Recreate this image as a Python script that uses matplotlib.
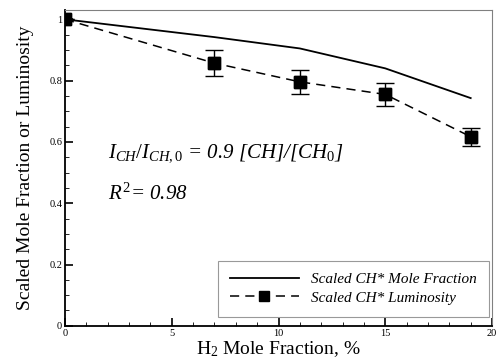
import matplotlib
matplotlib.use("Agg")
import matplotlib.pyplot as plt
from matplotlib.ticker import MultipleLocator, FuncFormatter

plt.rcParams['font.family'] = 'Liberation Serif'
plt.rcParams['mathtext.fontset'] = 'custom'
plt.rcParams['mathtext.rm'] = 'Liberation Serif'
plt.rcParams['mathtext.it'] = 'Liberation Serif:italic'
plt.rcParams['mathtext.default'] = 'it'

# Simulated mole fraction (solid line)
h2_sim = [0, 7, 11, 15, 19]
mole_frac = [1.0, 0.942, 0.905, 0.84, 0.743]

# Measured luminosity with error bars
h2_exp = [0, 7, 11, 15, 19]
lum = [1.0, 0.857, 0.796, 0.755, 0.617]
lum_err = [0.0, 0.043, 0.039, 0.038, 0.030]

fig = plt.figure(figsize=(4.96, 3.62), dpi=100)
ax = fig.add_axes([0.131, 0.100, 0.861, 0.872])

ax.plot(h2_sim, mole_frac, color='black', lw=1.3, label='Scaled CH* Mole Fraction')
ax.errorbar(h2_exp, lum, yerr=lum_err, color='black', ls='none', marker='s', ms=8,
            capsize=6.5, elinewidth=1.0, capthick=1.0)
ax.plot(h2_exp, lum, color='black', lw=1.1, ls=(0, (6, 4)), marker='s', ms=8,
        label='Scaled CH* Luminosity')

ax.set_xlim(0, 20)
ax.set_ylim(0, 1.03)
ax.xaxis.set_major_locator(MultipleLocator(5))
ax.xaxis.set_minor_locator(MultipleLocator(1))
ax.yaxis.set_major_locator(MultipleLocator(0.2))
ax.yaxis.set_minor_locator(MultipleLocator(0.05))
ax.yaxis.set_major_formatter(FuncFormatter(lambda v, p: '%g' % round(v, 2)))
ax.tick_params(which='both', direction='in', top=False, right=False, labelsize=7.5, pad=2)
ax.tick_params(which='major', length=6, width=1.2)
ax.tick_params(which='minor', length=3, width=0.6)
for s in ['top', 'right']:
    ax.spines[s].set_color('gray')
    ax.spines[s].set_linewidth(0.8)
for s in ['left', 'bottom']:
    ax.spines[s].set_linewidth(1.3)

ax.set_xlabel(r'H$_\mathrm{2}$ Mole Fraction, %', fontsize=14, labelpad=1)
ax.set_ylabel('Scaled Mole Fraction or Luminosity', fontsize=14, labelpad=11)

ax.text(2.0, 0.55, r'$I_{CH}/I_{CH,0}$ = 0.9 [CH]/[CH$_0$]', fontsize=15, style='italic')
ax.text(2.0, 0.41, r'$R^2$= 0.98', fontsize=15, style='italic')

leg = ax.legend(loc='lower right', bbox_to_anchor=(0.993, 0.028), borderaxespad=0,
                handlelength=4.5, handletextpad=0.8, frameon=True, fancybox=False,
                borderpad=0.8, labelspacing=0.3, markerscale=0.85,
                prop={'style': 'italic', 'size': 11})
leg.get_frame().set_edgecolor('gray')
leg.get_frame().set_linewidth(0.8)

fig.savefig('out.png', dpi=100)
